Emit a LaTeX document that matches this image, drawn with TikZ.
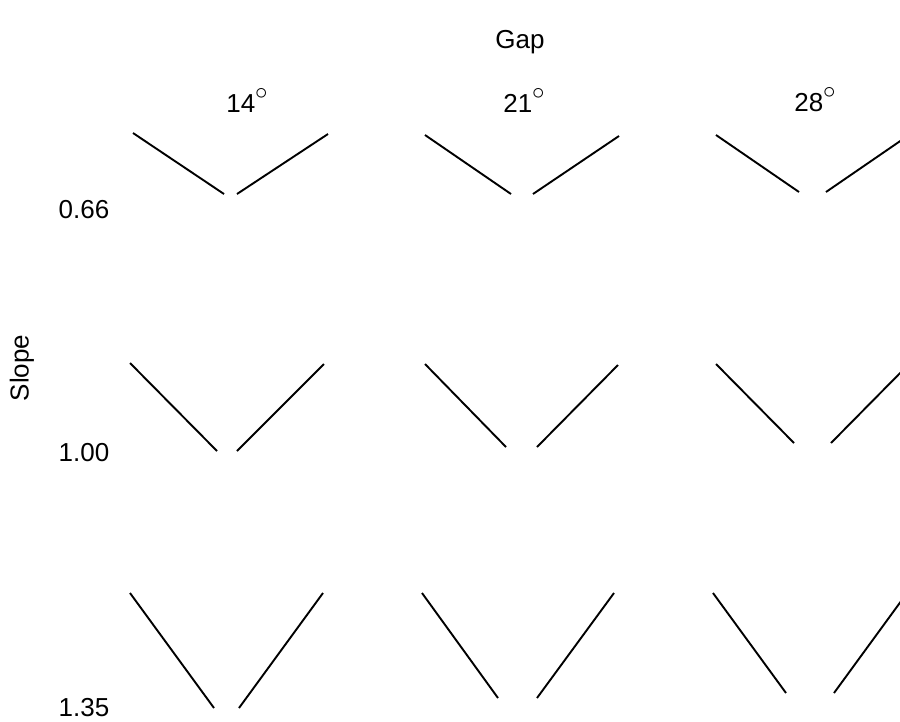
\documentclass[tikz,border=0pt]{standalone}
\usepackage{fontspec}
\setmainfont{Liberation Sans}
\newcommand{\degsign}{\raisebox{0.5em}{\fontsize{24}{24}\selectfont$\circ$}}
\begin{document}
\begin{tikzpicture}[x=1pt,y=-1pt,
  stroke/.style={line width=1.9pt,black},
  lbl/.style={font=\fontsize{26}{30}\selectfont,inner sep=0pt}]
\useasboundingbox (0,0) rectangle (900,721);
\clip (0,0) rectangle (900,721);
% titles
\node[lbl] (gap) at (520,42) {Gap};
\node[lbl] (g14) at (247,100) {14\degsign};
\node[lbl] (g21) at (524,100) {21\degsign};
\node[lbl] (g28) at (815,100) {28\degsign};
\node[lbl,rotate=90] (slope) at (22,368) {Slope};
\node[lbl] (s066) at (84,210) {0.66};
\node[lbl] (s100) at (84,453) {1.00};
\node[lbl] (s135) at (84,708) {1.35};
% row 1 (slope 0.66)
\draw[stroke] (133,133) -- (224,194);
\draw[stroke] (237,194) -- (328,134);
\draw[stroke] (425,135) -- (511,194);
\draw[stroke] (533,194) -- (619,136);
\draw[stroke] (716,135) -- (799,192);
\draw[stroke] (826,192) -- (909,135);
% row 2 (slope 1.00)
\draw[stroke] (130,363) -- (217,451);
\draw[stroke] (237,451) -- (324,364);
\draw[stroke] (425,364) -- (506,447);
\draw[stroke] (537,447) -- (618,365);
\draw[stroke] (716,364) -- (794,443);
\draw[stroke] (831,443) -- (909,364);
% row 3 (slope 1.35)
\draw[stroke] (130,593) -- (214,708);
\draw[stroke] (239,708) -- (323,593);
\draw[stroke] (422,593) -- (498,698);
\draw[stroke] (537,698) -- (614,593);
\draw[stroke] (713,593) -- (786,693);
\draw[stroke] (834,693) -- (907,593);
\end{tikzpicture}
\end{document}
